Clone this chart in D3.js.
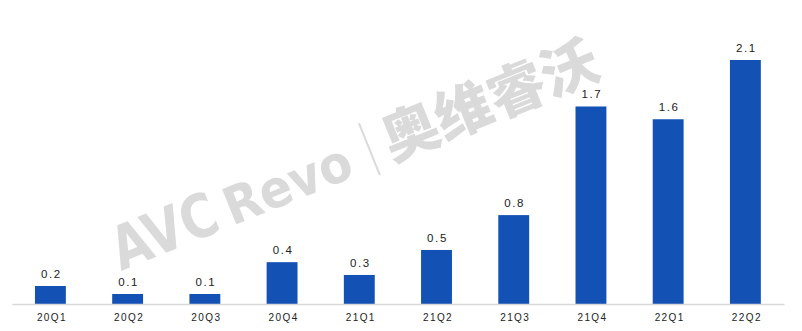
<!DOCTYPE html>
<html lang="zh">
<head>
<meta charset="UTF-8">
<title>Quarterly bars</title>
<style>
  body { margin: 0; background: #fff; }
  svg { display: block; }
</style>
<script src="https://d3js.org/d3.v7.min.js"></script>
</head>
<body>
<script>
// data (labels are the rounded values shown)
var quarters = ["20Q1", "20Q2", "20Q3", "20Q4", "21Q1", "21Q2", "21Q3", "21Q4", "22Q1", "22Q2"];
var values = [0.155, 0.086, 0.086, 0.36, 0.25, 0.465, 0.765, 1.70, 1.59, 2.10];
var labels = ["0.2", "0.1", "0.1", "0.4", "0.3", "0.5", "0.8", "1.7", "1.6", "2.1"];

var width = 802, height = 331;
var baseY = 304;

var svg = d3.select("body").append("svg")
    .attr("width", width)
    .attr("height", height);

var x = d3.scaleBand()
    .domain(quarters)
    .range([11.8, 784])
    .paddingInner(0.6)
    .paddingOuter(0.3);

var y = d3.scaleLinear()
    .domain([0, 2.1])
    .range([baseY, 60]);

// watermark, behind everything
var wm = svg.append("g")
    .attr("transform", "translate(121,271) rotate(-22)")
    .attr("fill", "#dadada")
    .style("font-family", "'DejaVu Sans', sans-serif")
    .style("font-weight", "bold");
wm.append("text").attr("x", 0).attr("y", 0)
    .attr("font-size", 60)
    .attr("textLength", 110).attr("lengthAdjust", "spacingAndGlyphs")
    .text("AVC");
wm.append("text").attr("x", 120).attr("y", 0)
    .attr("font-size", 52)
    .attr("textLength", 134).attr("lengthAdjust", "spacingAndGlyphs")
    .text("Revo");
wm.append("line")
    .attr("x1", 276).attr("x2", 276)
    .attr("y1", 8).attr("y2", -48)
    .attr("stroke", "#dadada").attr("stroke-width", 2);
wm.append("text").attr("x", 292).attr("y", 0)
    .attr("font-size", 56)
    .style("font-family", "'Noto Sans CJK SC', sans-serif")
    .style("font-weight", "900")
    .attr("textLength", 228).attr("lengthAdjust", "spacingAndGlyphs")
    .text("奥维睿沃");

// bars
svg.selectAll(".bar")
    .data(values)
    .enter().append("rect")
    .attr("class", "bar")
    .attr("x", function (d, i) { return x(quarters[i]); })
    .attr("y", function (d) { return y(d); })
    .attr("width", x.bandwidth())
    .attr("height", function (d) { return baseY - y(d); })
    .attr("fill", "#1351b4");

// value labels
svg.selectAll(".val")
    .data(values)
    .enter().append("text")
    .attr("class", "val")
    .attr("x", function (d, i) { return x(quarters[i]) + x.bandwidth() / 2 + 1; })
    .attr("y", function (d) { return y(d) - 8; })
    .attr("text-anchor", "middle")
    .style("font-family", "'Liberation Sans', Arial, sans-serif")
    .style("font-size", "11.5px")
    .style("letter-spacing", "1.6px")
    .attr("fill", "#222")
    .text(function (d, i) { return labels[i]; });

// x axis
var axis = svg.append("g")
    .attr("transform", "translate(0," + baseY + ")")
    .call(d3.axisBottom(x).tickSize(0).tickPadding(10));
axis.select(".domain").attr("stroke", "#d9d9d9").attr("stroke-width", 1.3);
axis.selectAll("text")
    .attr("dx", 1.5)
    .style("font-family", "'Liberation Sans', Arial, sans-serif")
    .style("font-size", "10px")
    .style("letter-spacing", "1.4px")
    .attr("fill", "#222");
</script>
</body>
</html>
